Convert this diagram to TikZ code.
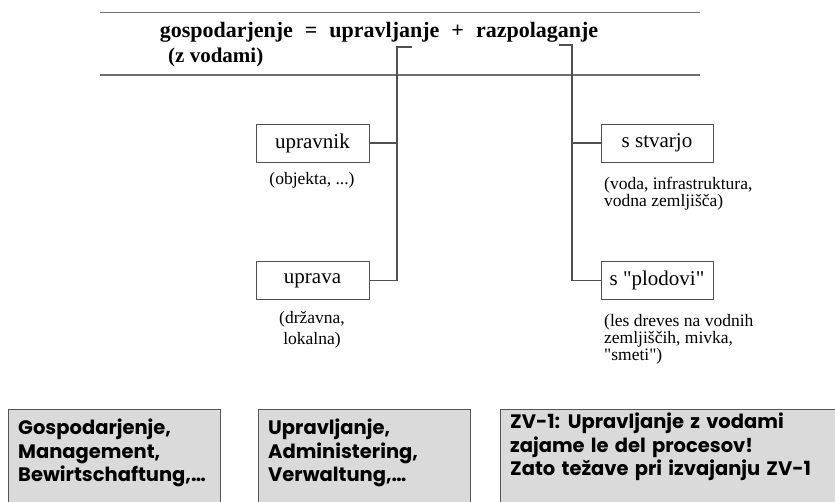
\documentclass[tikz,border=0pt]{standalone}
\usepackage{fontspec}
\setmainfont{Liberation Serif}[Ligatures=TeXOff]
\newfontfamily\comic{Poppins}[WordSpace=1.5]
\definecolor{linegray}{HTML}{505050}
\definecolor{topgray}{HTML}{6E6E6E}
\definecolor{boxfill}{HTML}{DADADA}
\definecolor{boxedge}{HTML}{555555}
\begin{document}
\begin{tikzpicture}[x=1pt,y=-1pt,
  ln/.style={draw=linegray, line width=1.1pt},
  topline/.style={draw=topgray, line width=1.6pt},
  tbox/.style={draw=linegray, line width=0.9pt, minimum width=113pt, minimum height=38pt, inner sep=0pt, font=\fontsize{21}{24}\selectfont},
  note/.style={font=\fontsize{17.5}{17}\selectfont, inner sep=0pt},
  gbox/.style={draw=boxedge, fill=boxfill, line width=1pt, anchor=north west, inner sep=0pt},
  gtext/.style={font=\comic\bfseries\fontsize{19.5}{23.5}\selectfont, align=left, inner sep=0pt, anchor=north west}
]
\useasboundingbox (0,0) rectangle (835,501);
\clip (0,0) rectangle (835,501);

% top frame
\node (topbox) [minimum width=600pt, minimum height=62pt, inner sep=0pt] at (400,43.5) {};
\draw[topline] (topbox.north west) -- (topbox.north east);
\draw[topline] (topbox.south west) -- (topbox.south east);
\node (title) [anchor=base, inner sep=0pt, font=\bfseries\fontsize{22}{24}\selectfont] at (379,37)
  {gospodarjenje\hspace{12pt}=\hspace{12pt}upravljanje\hspace{12pt}+\hspace{12pt}razpolaganje};
\node (sub) [anchor=base west, inner sep=0pt, font=\bfseries\fontsize{21}{24}\selectfont] at (168,62) {(z vodami)};

% boxes
\node (upravnik) [tbox] at (312.5,143) {upravnik};
\node (uprava) [tbox] at (312.5,280.5) {uprava};
\node (stvarjo) [tbox, minimum width=112pt] at (657,143) {s stvarjo};
\node (plodovi) [tbox, minimum width=112pt] at (657,280.5) {s "plodovi"};

% notes
\node (n1) [note] at (312,180) {(objekta, ...)};
\node (n2) [note, align=center, font=\fontsize{17.5}{21}\selectfont] at (312,330) {(državna,\\lokalna)};
\node (n3) [note, align=left, anchor=north west] at (604,177) {(voda, infrastruktura,\\vodna zemljišča)};
\node (n4) [note, align=left, anchor=north west] at (604,314) {(les dreves na vodnih\\zemljiščih, mivka,\\"smeti")};

% connectors
\coordinate (lb) at (412,47);
\coordinate (lv) at (397,47);
\coordinate (rb) at (559,45);
\coordinate (rv) at (572,45);
\draw[ln] (lb) -- (lv) |- (uprava.east);
\draw[ln] (upravnik.east) -- (upravnik.east -| lv);
\draw[ln] (rb) -- (rv) |- (plodovi.west);
\draw[ln] (stvarjo.west) -- (stvarjo.west -| rv);

% bottom grey boxes
\node (b1) [gbox, minimum width=212pt, minimum height=120pt] at (8,409) {};
\node (b2) [gbox, minimum width=212pt, minimum height=120pt] at (258,409) {};
\node (b3) [gbox, minimum width=360pt, minimum height=120pt] at (500,409) {};
\node (t1) [gtext] at (18,419) {Gospodarjenje,\\Management,\\Bewirtschaftung,…};
\node (t2) [gtext] at (268,419) {Upravljanje,\\Administering,\\Verwaltung,…};
\node (t3) [gtext] at (510,413) {ZV-1: Upravljanje z vodami\\zajame le del procesov!\\Zato težave pri izvajanju ZV-1};
\end{tikzpicture}
\end{document}
